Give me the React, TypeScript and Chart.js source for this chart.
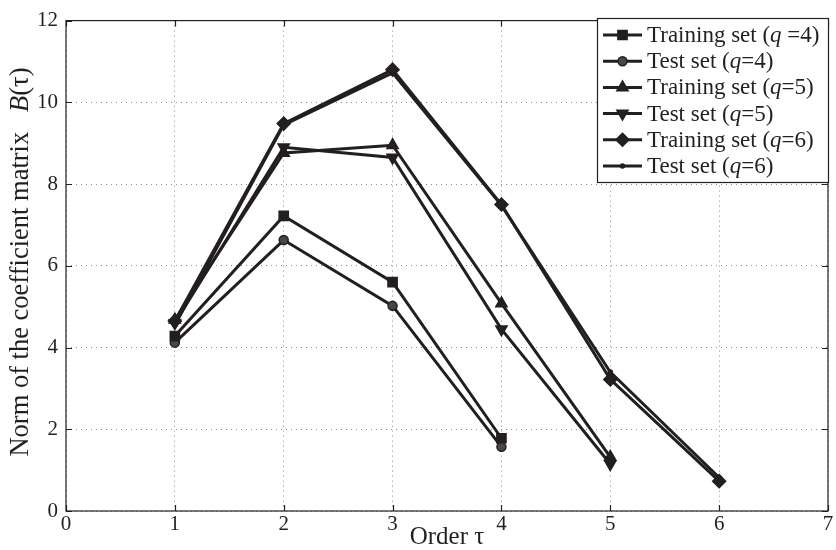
import { useEffect, useRef } from "react";
import { Chart, registerables } from "chart.js";

Chart.register(...registerables);

// Order tau on the x axis
const orders = [1, 2, 3, 4, 5, 6];

// Norm of the coefficient matrix B(tau) for each set
const trainQ4 = [4.28, 7.22, 5.6, 1.78];
const testQ4 = [4.12, 6.63, 5.02, 1.57];
const trainQ5 = [4.68, 8.76, 8.95, 5.08, 1.32];
const testQ5 = [4.6, 8.9, 8.65, 4.45, 1.15];
const trainQ6 = [4.65, 9.48, 10.8, 7.5, 3.22, 0.73];
const testQ6 = [4.55, 9.45, 10.72, 7.48, 3.4, 0.82];

// Legend text: prefix, italic symbol, suffix
const legendPrefix = [
  "Training set (",
  "Test set (",
  "Training set (",
  "Test set (",
  "Training set (",
  "Test set (",
];
const legendSuffix = [" =4)", "=4)", "=5)", "=5)", "=6)", "=6)"];

const xTickValues = [0, 1, 2, 3, 4, 5, 6, 7];
const yTickValues = [0, 2, 4, 6, 8, 10, 12];

const FONT = "'Liberation Serif', 'Times New Roman', serif";
const INK = "#231f20";

type Seg = { t: string; i?: boolean };

function segWidth(ctx: CanvasRenderingContext2D, segs: Seg[], size: number) {
  let w = 0;
  for (const s of segs) {
    ctx.font = `${s.i ? "italic " : ""}${size}px ${FONT}`;
    w += ctx.measureText(s.t).width;
  }
  return w;
}

function drawSegs(ctx: CanvasRenderingContext2D, segs: Seg[], x: number, y: number, size: number) {
  let cx = x;
  ctx.textAlign = "left";
  for (const s of segs) {
    ctx.font = `${s.i ? "italic " : ""}${size}px ${FONT}`;
    ctx.fillText(s.t, cx, y);
    cx += ctx.measureText(s.t).width;
  }
}

type Marker = { style: string; r: number; rot: number; fill: string };

const markers: Marker[] = [
  { style: "rect", r: 6.5, rot: 0, fill: INK },
  { style: "circle", r: 4.5, rot: 0, fill: "#4a4546" },
  { style: "triangle", r: 6.5, rot: 0, fill: INK },
  { style: "triangle", r: 6.5, rot: 180, fill: INK },
  { style: "rectRot", r: 6.5, rot: 0, fill: INK },
  { style: "circle", r: 2, rot: 0, fill: INK },
];

function drawMarker(ctx: CanvasRenderingContext2D, m: Marker, x: number, y: number) {
  ctx.save();
  ctx.translate(x, y);
  ctx.rotate((m.rot * Math.PI) / 180);
  ctx.fillStyle = m.fill;
  ctx.strokeStyle = INK;
  ctx.lineWidth = 1.5;
  ctx.beginPath();
  const r = m.r;
  if (m.style === "rect") {
    const s = r * Math.SQRT1_2;
    ctx.rect(-s, -s, 2 * s, 2 * s);
  } else if (m.style === "circle") {
    ctx.arc(0, 0, r, 0, Math.PI * 2);
  } else if (m.style === "triangle") {
    const e = (3 * r) / Math.sqrt(3);
    const h = (e * Math.sqrt(3)) / 2;
    ctx.moveTo(0, -h * (2 / 3));
    ctx.lineTo(e / 2, h / 3);
    ctx.lineTo(-e / 2, h / 3);
    ctx.closePath();
  } else if (m.style === "rectRot") {
    ctx.moveTo(0, -r);
    ctx.lineTo(r, 0);
    ctx.lineTo(0, r);
    ctx.lineTo(-r, 0);
    ctx.closePath();
  }
  ctx.fill();
  ctx.stroke();
  ctx.restore();
}

const framePlugin = {
  id: "frameAndTicks",
  afterDraw(chart: any) {
    const { ctx, chartArea: a, scales } = chart;
    ctx.save();
    ctx.strokeStyle = INK;
    ctx.lineWidth = 1.2;
    ctx.strokeRect(a.left, a.top, a.right - a.left, a.bottom - a.top);
    const tl = 6;
    ctx.beginPath();
    for (const v of xTickValues) {
      const px = Math.round(scales.x.getPixelForValue(v)) + 0.5;
      ctx.moveTo(px, a.bottom);
      ctx.lineTo(px, a.bottom - tl);
      ctx.moveTo(px, a.top);
      ctx.lineTo(px, a.top + tl);
    }
    for (const v of yTickValues) {
      const py = Math.round(scales.y.getPixelForValue(v)) + 0.5;
      ctx.moveTo(a.left, py);
      ctx.lineTo(a.left + tl, py);
      ctx.moveTo(a.right, py);
      ctx.lineTo(a.right - tl, py);
    }
    ctx.stroke();

    // axis titles
    ctx.fillStyle = INK;
    ctx.textBaseline = "middle";
    const xt: Seg[] = [{ t: "Order τ" }];
    const xw = segWidth(ctx, xt, 25);
    drawSegs(ctx, xt, (a.left + a.right) / 2 - xw / 2, 537, 25);

    const yt: Seg[] = [
      { t: "Norm of the coefficient matrix   " },
      { t: "B", i: true },
      { t: "(τ)" },
    ];
    const yw = segWidth(ctx, yt, 26.5);
    ctx.save();
    ctx.translate(21, 262);
    ctx.rotate(-Math.PI / 2);
    drawSegs(ctx, yt, -yw / 2, 0, 26.5);
    ctx.restore();

    // legend box
    const bx = 597, by = 18, bw = 231, bh = 164;
    ctx.fillStyle = "#ffffff";
    ctx.fillRect(bx, by, bw, bh);
    ctx.strokeStyle = INK;
    ctx.lineWidth = 1.2;
    ctx.strokeRect(bx + 0.5, by + 0.5, bw, bh);
    for (let i = 0; i < legendPrefix.length; i++) {
      const y = by + 17 + i * 26.2;
      ctx.strokeStyle = INK;
      ctx.lineWidth = 3;
      ctx.beginPath();
      ctx.moveTo(603, y);
      ctx.lineTo(642, y);
      ctx.stroke();
      drawMarker(ctx, markers[i], 622.5, y);
      ctx.fillStyle = INK;
      ctx.textBaseline = "middle";
      drawSegs(
        ctx,
        [{ t: legendPrefix[i] }, { t: "q", i: true }, { t: legendSuffix[i] }],
        647,
        y + 1,
        23
      );
    }
    ctx.restore();
  },
};

function series(label: string, values: number[], m: Marker) {
  return {
    label,
    data: values.map((v, i) => ({ x: orders[i], y: v })),
    borderColor: INK,
    borderWidth: 3,
    pointStyle: m.style,
    pointRadius: m.r,
    pointRotation: m.rot,
    pointBackgroundColor: m.fill,
    pointBorderColor: INK,
    pointBorderWidth: 1.5,
    tension: 0,
    fill: false,
  };
}

export default function App() {
  const ref = useRef<HTMLCanvasElement | null>(null);

  useEffect(() => {
    if (!ref.current) return;
    const chart = new Chart(ref.current, {
      type: "line",
      data: {
        datasets: [
          series("Training set (q =4)", trainQ4, markers[0]),
          series("Test set (q=4)", testQ4, markers[1]),
          series("Training set (q=5)", trainQ5, markers[2]),
          series("Test set (q=5)", testQ5, markers[3]),
          series("Training set (q=6)", trainQ6, markers[4]),
          series("Test set (q=6)", testQ6, markers[5]),
        ] as any,
      },
      options: {
        responsive: false,
        animation: false,
        layout: { padding: { left: 0, top: 11, right: 7, bottom: 0 } },
        plugins: { legend: { display: false }, tooltip: { enabled: false } },
        scales: {
          x: {
            type: "linear",
            min: 0,
            max: 7,
            afterFit: (s: any) => {
              s.height = 39;
            },
            afterBuildTicks: (s: any) => {
              s.ticks = xTickValues.map((v) => ({ value: v }));
            },
            ticks: {
              color: INK,
              font: { family: FONT, size: 21 },
              padding: 1,
              maxRotation: 0,
            },
            grid: { color: "#8a8a8a", lineWidth: 1, drawTicks: false },
            border: { display: false, dash: [1, 4] },
          },
          y: {
            type: "linear",
            min: 0,
            max: 12,
            afterFit: (s: any) => {
              s.width = 66;
            },
            afterBuildTicks: (s: any) => {
              s.ticks = yTickValues.map((v) => ({ value: v }));
            },
            ticks: {
              color: INK,
              font: { family: FONT, size: 21 },
              padding: 8,
            },
            grid: { color: "#8a8a8a", lineWidth: 1, drawTicks: false },
            border: { display: false, dash: [1, 4] },
          },
        },
      },
      plugins: [framePlugin],
    });
    return () => chart.destroy();
  }, []);

  return (
    <div style={{ position: "fixed", left: 0, top: 0, width: 836, height: 550, background: "#fff" }}>
      <canvas ref={ref} width={836} height={550} style={{ display: "block" }} />
    </div>
  );
}
